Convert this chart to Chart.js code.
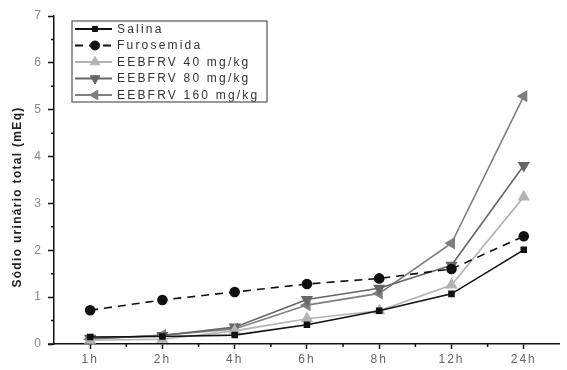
<!DOCTYPE html>
<html>
<head>
<meta charset="utf-8">
<script src="https://cdn.jsdelivr.net/npm/chart.js@4.4.1/dist/chart.umd.min.js"></script>
<style>
  body { margin: 0; background: #fff; }
  #wrap { width: 567px; height: 370px; }
</style>
</head>
<body>
<div id="wrap"><canvas id="sodioChart" width="567" height="370"></canvas></div>
<script>
// data
const times = ['1h', '2h', '4h', '6h', '8h', '12h', '24h'];
const salina = [0.15, 0.16, 0.19, 0.41, 0.71, 1.07, 2.01];
const furosemida = [0.72, 0.94, 1.11, 1.28, 1.40, 1.60, 2.30];
const eeb40 = [0.08, 0.10, 0.28, 0.54, 0.71, 1.26, 3.14];
const eeb80 = [0.12, 0.18, 0.36, 0.95, 1.19, 1.68, 3.81];
const eeb160 = [0.10, 0.19, 0.32, 0.83, 1.08, 2.15, 5.29];
const yTicks = [0, 1, 2, 3, 4, 5, 6, 7];
const yTitle = 'Sódio urinário total (mEq)';

const FONT = '"Liberation Sans", Arial, sans-serif';

// draws axes, minor ticks, y title and the boxed legend
const paperPlugin = {
  id: 'paper',
  beforeDraw(chart) {
    chart.ctx.letterSpacing = '2px';
  },
  afterDraw(chart) {
    const ctx = chart.ctx;
    const xs = chart.scales.x;
    const ys = chart.scales.y;
    const area = chart.chartArea;
    ctx.save();
    ctx.strokeStyle = '#111';
    ctx.lineWidth = 1.5;

    // minor ticks on x (between categories)
    ctx.beginPath();
    for (let i = 0; i < times.length - 1; i++) {
      const x = (xs.getPixelForValue(i) + xs.getPixelForValue(i + 1)) / 2;
      ctx.moveTo(x, area.bottom);
      ctx.lineTo(x, area.bottom + 3);
    }
    // minor ticks on y (half units)
    for (let i = 0; i < yTicks.length - 1; i++) {
      const y = ys.getPixelForValue(yTicks[i] + 0.5);
      ctx.moveTo(area.left, y);
      ctx.lineTo(area.left - 3, y);
    }
    // x axis reaches the 0 tick
    ctx.moveTo(area.left - 6, area.bottom);
    ctx.lineTo(area.left, area.bottom);
    ctx.stroke();

    // y title
    ctx.letterSpacing = '1.3px';
    ctx.fillStyle = '#222';
    ctx.font = 'bold 12px ' + FONT;
    ctx.translate(18, 197);
    ctx.rotate(-Math.PI / 2);
    ctx.textAlign = 'center';
    ctx.textBaseline = 'middle';
    ctx.fillText(yTitle, 0, 0);
    ctx.restore();

    // legend
    ctx.save();
    const bx = 72, by = 21, bw = 195, bh = 81;
    ctx.fillStyle = '#fff';
    ctx.fillRect(bx, by, bw, bh);
    ctx.strokeStyle = '#555';
    ctx.lineWidth = 1.2;
    ctx.strokeRect(bx, by, bw, bh);
    chart.data.datasets.forEach((ds, i) => {
      const y = 29 + i * 16.5;
      ctx.strokeStyle = ds.borderColor;
      ctx.lineWidth = 1.8;
      ctx.setLineDash(ds.borderDash || []);
      ctx.beginPath();
      ctx.moveTo(75, y);
      ctx.lineTo(112, y);
      ctx.stroke();
      ctx.setLineDash([]);
      ctx.fillStyle = ds.borderColor;
      ctx.strokeStyle = ds.borderColor;
      ctx.lineWidth = 1;
      Chart.helpers.drawPoint(ctx, {
        pointStyle: ds.pointStyle,
        rotation: ds.pointRotation || 0,
        radius: ds.pointRadius,
        borderWidth: 1
      }, 95, y);
      ctx.fillStyle = '#333';
      ctx.letterSpacing = '2.2px';
      ctx.font = '12px ' + FONT;
      ctx.textBaseline = 'middle';
      ctx.fillText(ds.label, 117, y + 0.5);
    });
    ctx.restore();
  }
};

const ctx = document.getElementById('sodioChart').getContext('2d');
const mk = (label, data, color, style, rot, radius, dash) => ({
  label: label,
  data: data,
  borderColor: color,
  backgroundColor: color,
  pointBackgroundColor: color,
  pointBorderColor: color,
  pointStyle: style,
  pointRotation: rot,
  pointRadius: radius,
  pointHoverRadius: radius,
  borderWidth: 1.6,
  borderDash: dash,
  tension: 0
});

const chart = new Chart(ctx, {
  type: 'line',
  data: {
    labels: times,
    datasets: [
      mk('Salina', salina, '#111111', 'rect', 0, 3.5, []),
      mk('Furosemida', furosemida, '#111111', 'circle', 0, 4.5, [8, 6]),
      mk('EEBFRV 40 mg/kg', eeb40, '#b3b3b3', 'triangle', 0, 5.5, []),
      mk('EEBFRV 80 mg/kg', eeb80, '#666666', 'triangle', 180, 5.5, []),
      mk('EEBFRV 160 mg/kg', eeb160, '#7e7e7e', 'triangle', -90, 5.5, [])
    ]
  },
  options: {
    responsive: false,
    animation: false,
    layout: { padding: { top: 16, right: 0, left: 0, bottom: 0 } },
    plugins: {
      legend: { display: false },
      tooltip: { enabled: false }
    },
    scales: {
      x: {
        type: 'category',
        offset: true,
        afterFit(scale) { scale.height = 26; },
        border: { color: '#111', width: 1.5 },
        grid: { offset: false, drawOnChartArea: false, tickLength: 5, tickColor: '#111', tickWidth: 1.5 },
        ticks: { color: '#666', font: { family: FONT, size: 12 }, padding: 3, maxRotation: 0 }
      },
      y: {
        min: 0,
        max: 7,
        afterFit(scale) { scale.width = 54; },
        afterBuildTicks(scale) { scale.ticks = yTicks.map(v => ({ value: v })); },
        border: { color: '#111', width: 1.5 },
        grid: { drawOnChartArea: false, tickLength: 6, tickColor: '#111', tickWidth: 1.5 },
        ticks: { color: '#888', font: { family: FONT, size: 12 }, padding: 5 }
      }
    }
  },
  plugins: [paperPlugin]
});
</script>
</body>
</html>
